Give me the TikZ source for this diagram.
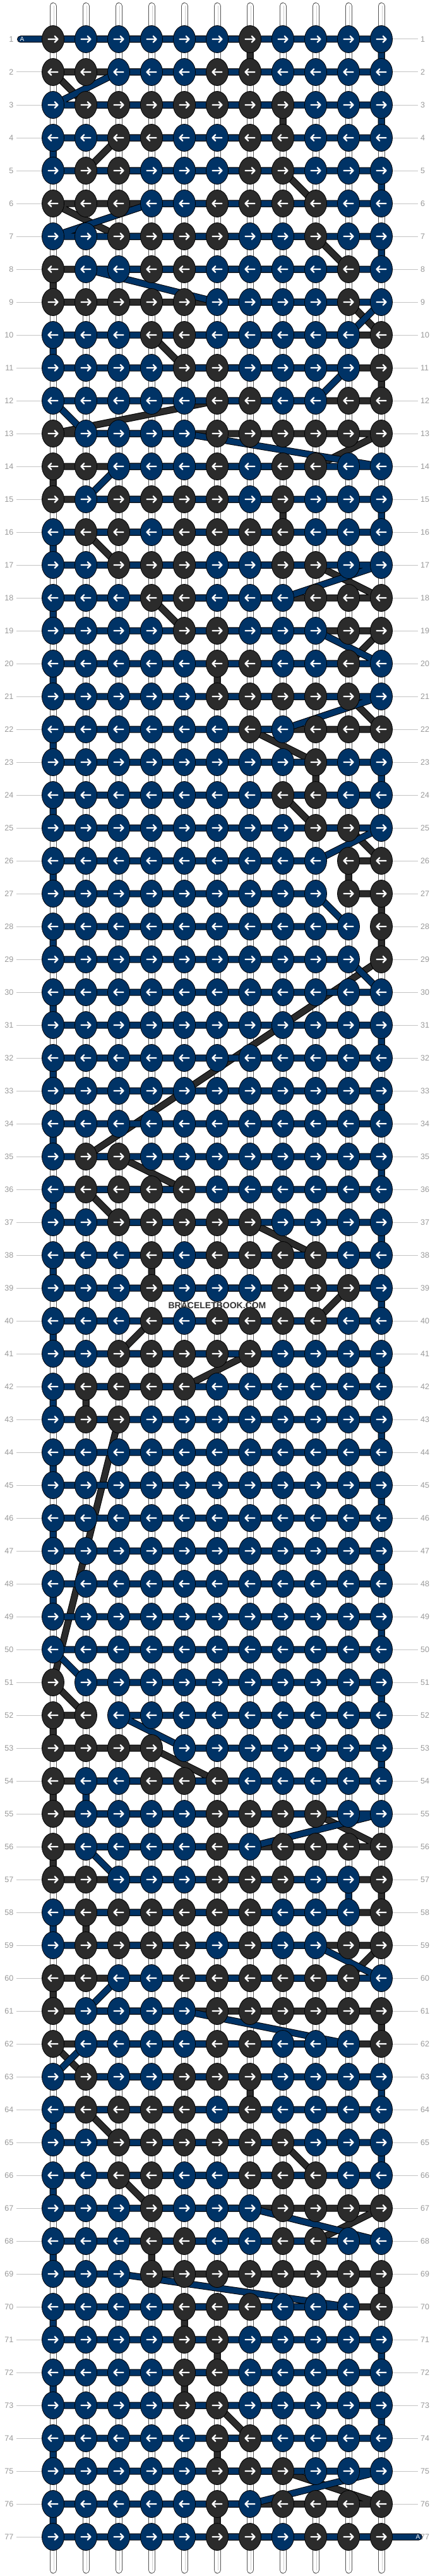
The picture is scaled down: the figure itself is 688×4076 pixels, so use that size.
\documentclass[tikz,border=0pt]{standalone}
\usepackage{fontspec}
\setmainfont{Liberation Sans}
\usetikzlibrary{shapes.geometric}
\pgfdeclarelayer{bg}
\pgfdeclarelayer{fg}
\pgfsetlayers{bg,main,fg}
\definecolor{knB}{HTML}{003366}
\definecolor{knD}{HTML}{2B2B2B}
\definecolor{lblText}{HTML}{9A9A9A}
\definecolor{lblLine}{HTML}{C4C4C4}
\definecolor{strOut}{HTML}{555555}
\definecolor{strIn}{HTML}{CFCFCF}
\definecolor{wmark}{HTML}{333333}
\tikzset{
  knot/.style={ellipse, draw=black, line width=0.8, minimum width=35, minimum height=43, inner sep=0},
  knD/.style={knot, fill=knD},
  knB/.style={knot, fill=knB},
  knarr/.style={white, line width=2.3, line cap=round, line join=round},
  strD/.style={draw=black, line width=1, double=knD, double distance=9, line cap=round, line join=round},
  strB/.style={draw=black, line width=1, double=knB, double distance=9, line cap=round, line join=round},
  rowlbl/.style={text=lblText, inner sep=0, font=\fontsize{12.5}{14}\selectfont},
  lblline/.style={draw=lblLine, line width=1},
  alabel/.style={text=white, inner sep=0, font=\fontsize{10}{11}\selectfont}
}
\def\rowdata{%
{1,0,0,0,0,0,1,0,0,0,0},%1
{1,1,0,0,0,1,1,0,0,0,0},%2
{0,1,1,1,1,1,1,1,0,0,0},%3
{0,0,1,1,0,0,1,1,0,0,0},%4
{0,1,1,0,0,0,1,1,0,0,0},%5
{1,1,1,0,0,1,1,1,1,0,0},%6
{0,0,1,1,1,1,0,0,1,0,0},%7
{1,0,0,1,1,0,0,0,0,1,0},%8
{1,1,1,1,1,0,0,0,0,1,0},%9
{0,0,0,1,1,0,0,0,0,0,1},%10
{0,0,0,0,1,1,0,0,0,0,1},%11
{0,0,0,0,0,1,1,0,0,1,1},%12
{1,0,0,0,0,1,1,1,1,1,1},%13
{1,1,0,0,0,1,0,1,1,0,0},%14
{1,0,1,1,1,1,0,1,0,0,0},%15
{0,1,1,0,1,1,1,1,0,0,0},%16
{0,0,1,1,1,0,0,1,1,0,0},%17
{0,0,0,1,1,0,0,0,1,1,1},%18
{0,0,0,0,1,1,0,0,0,1,1},%19
{0,0,0,0,0,1,1,0,0,1,0},%20
{0,0,0,0,0,1,1,1,1,1,0},%21
{0,0,0,0,0,0,1,0,1,1,1},%22
{0,0,0,0,0,0,0,0,1,0,0},%23
{0,0,0,0,0,0,0,1,1,0,0},%24
{0,0,0,0,0,0,0,0,1,1,0},%25
{0,0,0,0,0,0,0,0,0,1,1},%26
{0,0,0,0,0,0,0,0,0,1,1},%27
{0,0,0,0,0,0,0,0,0,0,1},%28
{0,0,0,0,0,0,0,0,0,0,1},%29
{0,0,0,0,0,0,0,0,0,0,0},%30
{0,0,0,0,0,0,0,0,0,0,0},%31
{0,0,0,0,0,0,0,0,0,0,0},%32
{0,0,0,0,0,0,0,0,0,0,0},%33
{0,0,0,0,0,0,0,0,0,0,0},%34
{0,1,1,0,0,0,0,0,0,0,0},%35
{0,1,1,1,1,0,0,0,0,0,0},%36
{0,0,1,1,1,1,1,0,0,0,0},%37
{0,0,0,1,0,1,1,1,1,0,0},%38
{0,0,0,1,0,0,0,1,1,1,0},%39
{0,0,0,1,0,1,1,1,1,0,0},%40
{0,0,1,1,1,1,1,0,0,0,0},%41
{0,1,1,1,1,0,0,0,0,0,0},%42
{0,1,1,0,0,0,0,0,0,0,0},%43
{0,0,0,0,0,0,0,0,0,0,0},%44
{0,0,0,0,0,0,0,0,0,0,0},%45
{0,0,0,0,0,0,0,0,0,0,0},%46
{0,0,0,0,0,0,0,0,0,0,0},%47
{0,0,0,0,0,0,0,0,0,0,0},%48
{0,0,0,0,0,0,0,0,0,0,0},%49
{0,0,0,0,0,0,0,0,0,0,0},%50
{1,0,0,0,0,0,0,0,0,0,0},%51
{1,1,0,0,0,0,0,0,0,0,0},%52
{1,1,1,1,0,0,0,0,0,0,0},%53
{1,0,0,1,1,1,0,0,0,0,0},%54
{1,0,0,0,0,1,1,1,1,0,0},%55
{1,0,0,0,0,1,0,1,1,1,1},%56
{1,1,0,0,0,1,1,1,0,0,1},%57
{0,1,1,1,1,1,1,0,0,0,1},%58
{0,1,1,1,1,0,1,0,0,1,1},%59
{1,1,0,0,1,1,1,1,1,1,0},%60
{1,0,0,0,0,1,1,1,1,1,1},%61
{1,0,0,0,0,1,1,0,0,0,1},%62
{0,1,0,0,1,1,1,0,0,0,0},%63
{0,1,1,1,1,0,1,0,0,0,0},%64
{0,0,1,1,1,1,1,1,0,0,0},%65
{0,0,1,1,0,0,1,1,1,0,0},%66
{0,0,0,1,0,0,0,1,1,1,1},%67
{0,0,0,1,1,0,0,1,1,0,0},%68
{0,0,0,1,1,1,1,1,1,1,1},%69
{0,0,0,0,1,1,1,0,0,0,1},%70
{0,0,0,0,1,1,0,0,0,0,0},%71
{0,0,0,0,1,1,0,0,0,0,0},%72
{0,0,0,0,1,1,0,0,0,0,0},%73
{0,0,0,0,0,1,1,0,0,0,0},%74
{0,0,0,0,0,1,1,1,0,0,0},%75
{0,0,0,0,0,1,0,1,1,1,1},%76
{0,0,0,0,0,1,1,0,1,1,1}%77
}
\begin{document}
\begin{tikzpicture}[x=1pt,y=-1pt]
\useasboundingbox (0,0) rectangle (688,4076);
\begin{pgfonlayer}{bg}
\fill[white] (0,0) rectangle (688,4076);
% vertical base strings
\foreach \c in {1,...,11}{
  \pgfmathsetmacro\xx{84+52*(\c-1)}
  \coordinate (T\c) at (\xx,9.5);
  \coordinate (E\c) at (\xx,4066.5);
  \draw[line width=11, strOut, line cap=round] (T\c) -- (E\c);
  \draw[line width=9, white, line cap=round] (T\c) -- (E\c);
  \draw[line width=1, strIn] ([xshift=1.5]T\c) -- ([xshift=1.5]E\c);
}
\end{pgfonlayer}
% knots
\foreach \rs [count=\r] in \rowdata {
  \foreach \v [count=\c] in \rs {
    \pgfmathsetmacro\xx{84+52*(\c-1)}
    \pgfmathsetmacro\yy{62+52*(\r-1)}
    \expandafter\xdef\csname kc@\r @\c\endcsname{\v}
    \ifnum\v=1
      \node[knD] (K-\r-\c) at (\xx,\yy) {};
    \else
      \node[knB] (K-\r-\c) at (\xx,\yy) {};
    \fi
    \ifodd\r\relax
      \draw[knarr] (K-\r-\c.center) ++(-7.5,0) -- ++(15,0) ++(-4.8,-4.8) -- ++(4.8,4.8) -- ++(-4.8,4.8);
    \else
      \draw[knarr] (K-\r-\c.center) ++(7.5,0) -- ++(-15,0) ++(4.8,-4.8) -- ++(-4.8,4.8) -- ++(4.8,4.8);
    \fi
  }
  \node[rowlbl, anchor=east] (LN-\r) at (21.5,62+52*\r-52) {\r};
  \node[rowlbl, anchor=west] (RN-\r) at (666,62+52*\r-52) {\r};
}
% label lines
\begin{pgfonlayer}{bg}
\foreach \r in {2,...,77}{
  \draw[lblline] ([xshift=4.5]LN-\r.east) -- (K-\r-1.west);
}
\foreach \r in {1,...,76}{
  \draw[lblline] (K-\r-11.east) -- ([xshift=-4]RN-\r.west);
}
\end{pgfonlayer}
% string paths in knotting order
\coordinate (Astart) at (32.5,62);
\coordinate (Aend) at (663.5,4014);
\gdef\pathD{}
\gdef\pathB{(Astart)}
\foreach \r in {1,...,77}{
  \foreach \k in {1,...,11}{
    \ifodd\r\relax \edef\cc{\k}\else \edef\cc{\the\numexpr12-\k\relax}\fi
    \edef\vv{\csname kc@\r @\cc\endcsname}
    \ifnum\vv=1
      \ifx\pathD\empty
        \xdef\pathD{(K-\r-\cc.center)}
      \else
        \xdef\pathD{\pathD -- (K-\r-\cc.center)}
      \fi
    \else
      \xdef\pathB{\pathB -- (K-\r-\cc.center)}
    \fi
  }
}
\begin{pgfonlayer}{bg}
\edef\tmpdraw{\noexpand\draw[strD] \pathD;}\tmpdraw
\edef\tmpdraw{\noexpand\draw[strB] \pathB -- (Aend);}\tmpdraw
\end{pgfonlayer}
\begin{pgfonlayer}{fg}
\node[alabel] (A1) at (35,62.5) {A};
\node[alabel] (A2) at (662,4014.5) {A};
\node[text=wmark, inner sep=0, font=\bfseries\fontsize{14}{14}\selectfont] (WM) at (344,2066) {BRACELETBOOK.COM};
\end{pgfonlayer}
\end{tikzpicture}
\end{document}
